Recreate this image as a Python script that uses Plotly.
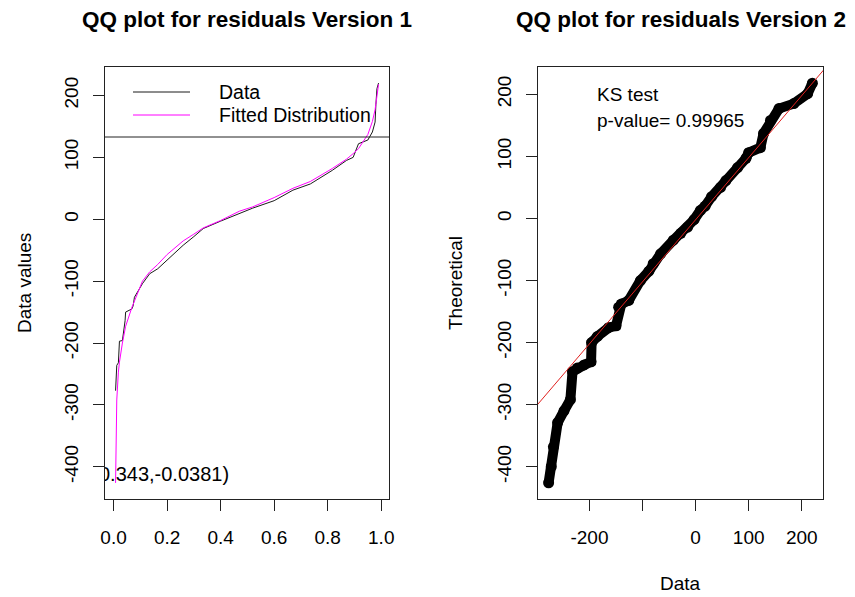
import plotly.graph_objects as go

# ---------------- data ----------------
prob = [0.0075, 0.008, 0.009, 0.010, 0.011, 0.012, 0.018, 0.019, 0.020, 0.022,
        0.033, 0.037, 0.043, 0.045, 0.068, 0.073, 0.078, 0.108, 0.135, 0.165,
        0.20, 0.26, 0.30, 0.335, 0.40, 0.47, 0.52, 0.60, 0.67, 0.735,
        0.817, 0.87, 0.895, 0.915, 0.95, 0.967, 0.977, 0.98, 0.984, 0.99]
data_q = [-277, -272, -268, -260, -248, -236, -232, -223, -210, -197,
          -196, -185, -164, -150, -145, -140, -126, -104, -88, -80,
          -66, -42, -28, -15, -3, 9, 18, 30, 47, 57,
          79, 95, 100, 122, 128, 141, 157, 185, 211, 220]
theo_q = [-426, -400, -368, -329, -310, -292, -247, -241, -236, -231,
          -200, -190, -176, -173, -143, -138, -132, -100, -85, -73,
          -57, -35, -24, -14, -2, 13, 20, 35, 50, 61,
          82, 97, 106, 114, 137, 158, 177, 185, 201, 218]

left_xticks = [0.0, 0.2, 0.4, 0.6, 0.8, 1.0]
left_xticklabels = ["0.0", "0.2", "0.4", "0.6", "0.8", "1.0"]
yticks = [-400, -300, -200, -100, 0, 100, 200]
yticklabels = ["-400", "-300", "-200", "-100", "0", "100", "200"]
right_xticks = [-200, -100, 0, 100, 200]
right_xticklabels = ["-200", "", "0", "100", "200"]

title1 = "QQ plot for residuals Version 1"
title2 = "QQ plot for residuals Version 2"
legend_labels = ["Data", "Fitted Distribution"]
ks_label = "KS test"
pval_label = "p-value= 0.99965"
param_label = "(0.343,-0.0381)"
param_pos = (0.176, -415)
ref_intercept = -2.0
ref_slope = 1.0

# ---------------- layout geometry (target page pixels) ----------------
OFF = 8                      # page body margin of the html page
W, H = 855 - OFF, 597 - OFF  # figure size so that page fits the window
FONT = "Liberation Sans, Arial, sans-serif"
LX0, LX1 = 105, 389
RX0, RX1 = 538, 823
TOP, BOT = 67, 499


def fx(p):
    return (p - OFF) / W


def fy(p):
    return 1 - (p - OFF) / H


fig = go.Figure()

# left panel
fig.add_trace(go.Scatter(x=prob, y=data_q, mode="lines",
                         line=dict(color="#1a1a1a", width=1),
                         xaxis="x", yaxis="y", hoverinfo="skip"))
fig.add_trace(go.Scatter(x=prob, y=theo_q, mode="lines",
                         line=dict(color="#FF00FF", width=1),
                         xaxis="x", yaxis="y", hoverinfo="skip"))
fig.add_trace(go.Scatter(x=[param_pos[0]], y=[param_pos[1]], mode="text",
                         text=[param_label], textposition="middle center",
                         textfont=dict(size=20, color="black", family=FONT),
                         cliponaxis=True, xaxis="x", yaxis="y", hoverinfo="skip"))

# right panel
x2_range = [-297, 240]
fig.add_trace(go.Scatter(x=data_q, y=theo_q, mode="lines+markers",
                         line=dict(color="black", width=10),
                         marker=dict(color="black", size=11),
                         xaxis="x2", yaxis="y2", hoverinfo="skip"))
ref_x = [x2_range[0] - 50, x2_range[1] + 50]
ref_y = [ref_intercept + ref_slope * v for v in ref_x]
fig.add_trace(go.Scatter(x=ref_x, y=ref_y, mode="lines",
                         line=dict(color="#E0201E", width=1),
                         xaxis="x2", yaxis="y2", hoverinfo="skip"))

axis_common = dict(showline=True, mirror=True, linecolor="#222", linewidth=1,
                   ticks="outside", ticklen=11, tickcolor="#222", tickwidth=1,
                   showgrid=False, zeroline=False,
                   tickfont=dict(size=19, color="black", family=FONT))

fig.update_layout(
    width=W, height=H, margin=dict(l=0, r=0, t=0, b=0, autoexpand=False),
    paper_bgcolor="white", plot_bgcolor="white", showlegend=False,
    font=dict(family=FONT, color="black"),
    xaxis=dict(domain=[fx(LX0), fx(LX1)], range=[-0.032, 1.029], anchor="y",
               tickvals=left_xticks, ticktext=left_xticklabels,
               ticklabelstandoff=10, **axis_common),
    yaxis=dict(domain=[fy(BOT), fy(TOP)], range=[-452, 246], anchor="x",
               tickvals=yticks, ticktext=yticklabels, tickangle=-90,
               ticklabelstandoff=7, **axis_common),
    xaxis2=dict(domain=[fx(RX0), fx(RX1)], range=x2_range, anchor="y2",
                tickvals=right_xticks, ticktext=right_xticklabels,
                ticklabelstandoff=10, **axis_common),
    yaxis2=dict(domain=[fy(BOT), fy(TOP)], range=[-452, 244], anchor="x2",
                tickvals=yticks, ticktext=yticklabels, tickangle=-90,
                ticklabelstandoff=7, **axis_common),
)


def note(text, px, py, size=19, xanchor="center", angle=0, bold=False):
    return dict(text=("<b>" + text + "</b>") if bold else text,
                x=fx(px), y=fy(py), xref="paper", yref="paper",
                xanchor=xanchor, yanchor="middle", textangle=angle,
                showarrow=False, font=dict(size=size, family=FONT, color="black"))


ann = [
    note(title1, (LX0 + LX1) / 2, 20, size=22.5, bold=True),
    note(title2, (RX0 + RX1) / 2, 20, size=22.5, bold=True),
    note("Data values", 24, 283, angle=-90),
    note("Theoretical", 455, 283, angle=-90),
    note("Data", (RX0 + RX1) / 2, 583),
    note(ks_label, 595, 95, xanchor="left"),
    note(pval_label, 595, 120, xanchor="left"),
    note(legend_labels[0], 217, 92, size=19.5, xanchor="left"),
    note(legend_labels[1], 217, 115, size=19.5, xanchor="left"),
]
fig.update_layout(annotations=ann)

shapes = [
    dict(type="line", xref="paper", yref="paper", x0=fx(LX0), x1=fx(LX1),
         y0=fy(137), y1=fy(137), line=dict(color="#222", width=1)),
    dict(type="line", xref="paper", yref="paper", x0=fx(133), x1=fx(190),
         y0=fy(92), y1=fy(92), line=dict(color="#1a1a1a", width=1)),
    dict(type="line", xref="paper", yref="paper", x0=fx(133), x1=fx(190),
         y0=fy(115), y1=fy(115), line=dict(color="#FF00FF", width=1)),
]
fig.update_layout(shapes=shapes)

fig.write_html("out.html")
